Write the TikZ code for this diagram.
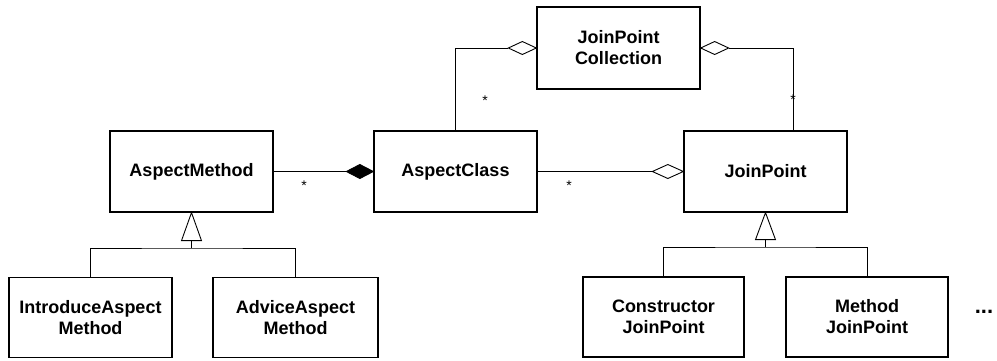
\documentclass[tikz,border=0pt]{standalone}
\usepackage{fontspec}
\setmainfont{Liberation Sans}
\begin{document}
\begin{tikzpicture}[x=1pt,y=-1pt,
  cls/.style={draw, line width=1.3pt, align=center, inner sep=0pt,
    font=\fontsize{18}{21}\selectfont\bfseries},
  conn/.style={line width=0.9pt},
  mult/.style={font=\fontsize{14}{16}\selectfont},
  genhead/.style={conn, fill=white},
  opendia/.style={conn, fill=white},
  filldia/.style={conn, fill=black}]
\useasboundingbox (0,0) rectangle (997,360);

% classes
\node[cls, minimum width=163pt, minimum height=82pt] (jpc) at (618.5,48) {JoinPoint\\Collection};
\node[cls, minimum width=163pt, minimum height=81pt] (amethod) at (191.5,171.5) {AspectMethod};
\node[cls, minimum width=163pt, minimum height=81pt] (aclass) at (455.5,171.5) {AspectClass};
\node[cls, minimum width=163pt, minimum height=81pt] (jp) at (765.5,171.5) {JoinPoint};
\node[cls, minimum width=163pt, minimum height=80pt] (intro) at (90.5,317.5) {IntroduceAspect\\Method};
\node[cls, minimum width=165pt, minimum height=80pt] (advice) at (295.5,317.5) {AdviceAspect\\Method};
\node[cls, minimum width=161pt, minimum height=80pt] (ctor) at (663.5,317) {Constructor\\JoinPoint};
\node[cls, minimum width=162pt, minimum height=80pt] (meth) at (867,317) {Method\\JoinPoint};
\node[font=\fontsize{22}{24}\selectfont\bfseries] (more) at (984,312) {...};

% aggregations into the collection
\draw[conn] (aclass.north) |- ([xshift=-28pt]jpc.west);
\draw[opendia] (jpc.west) -- ++(-14,-6.5) -- ++(-14,6.5) -- ++(14,6.5) -- cycle;
\draw[conn] ([xshift=27.5pt]jp.north) |- ([xshift=28pt]jpc.east);
\draw[opendia] (jpc.east) -- ++(14,-6.5) -- ++(14,6.5) -- ++(-14,6.5) -- cycle;
\node[mult] (m1) at (485,101) {*};
\node[mult] (m2) at (793,100) {*};

% composition and aggregation on the middle row
\draw[conn] (amethod.east) -- ([xshift=-27pt]aclass.west);
\draw[filldia] (aclass.west) -- ++(-13.5,-7) -- ++(-13.5,7) -- ++(13.5,7) -- cycle;
\draw[conn] (aclass.east) -- ([xshift=-31pt]jp.west);
\draw[opendia] (jp.west) -- ++(-15.5,-7) -- ++(-15.5,7) -- ++(15.5,7) -- cycle;
\node[mult] (m3) at (304,186) {*};
\node[mult] (m4) at (569,186) {*};

% generalization of AspectMethod
\coordinate (gb1) at ([yshift=-28pt]amethod.south);
\coordinate (gj1) at (gb1 |- 0,248);
\draw[conn] (intro.north) |- (gj1) -| (advice.north);
\draw[conn] (gj1) -- (gb1);
\draw[genhead] (amethod.south) -- ([xshift=-10pt]gb1) -- ([xshift=10pt]gb1) -- cycle;

% generalization of JoinPoint
\coordinate (gb2) at ([yshift=-27pt]jp.south);
\coordinate (gj2) at (gb2 |- 0,247);
\draw[conn] (ctor.north) |- (gj2) -| (meth.north);
\draw[conn] (gj2) -- (gb2);
\draw[genhead] (jp.south) -- ([xshift=-10pt]gb2) -- ([xshift=10pt]gb2) -- cycle;
\end{tikzpicture}
\end{document}
